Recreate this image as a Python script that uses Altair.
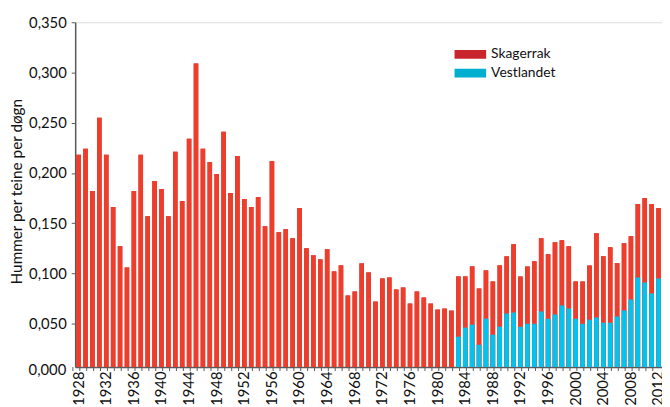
import altair as alt
import pandas as pd

years = list(range(1928, 2013))
skagerrak = [
    0.218, 0.224, 0.182, 0.255, 0.218, 0.166, 0.127, 0.106, 0.182, 0.218,
    0.157, 0.192, 0.184, 0.157, 0.221, 0.172, 0.234, 0.309, 0.224, 0.211,
    0.199, 0.241, 0.180, 0.217, 0.174, 0.166, 0.176, 0.147, 0.212, 0.141,
    0.144, 0.135, 0.165, 0.125, 0.118, 0.114, 0.124, 0.102, 0.108, 0.078,
    0.082, 0.110, 0.101, 0.072, 0.095, 0.096, 0.084, 0.086, 0.070, 0.082,
    0.076, 0.070, 0.064, 0.065, 0.063, 0.097, 0.097, 0.107, 0.085, 0.103,
    0.092, 0.108, 0.117, 0.129, 0.097, 0.107, 0.112, 0.135, 0.119, 0.131,
    0.133, 0.127, 0.092, 0.092, 0.108, 0.140, 0.117, 0.126, 0.110, 0.130,
    0.137, 0.169, 0.175, 0.169, 0.165,
]
vest_years = list(range(1983, 2013))
vestlandet = [
    0.037, 0.046, 0.049, 0.029, 0.055, 0.039, 0.047, 0.060, 0.061, 0.047,
    0.050, 0.050, 0.062, 0.055, 0.059, 0.068, 0.065, 0.055, 0.050, 0.054,
    0.056, 0.051, 0.051, 0.057, 0.063, 0.074, 0.096, 0.091, 0.080, 0.095,
]
series = ["Skagerrak", "Vestlandet"]
bar_colors = ["#EE3D2A", "#00C3EF"]
legend_colors = ["#C9252D", "#00AECF"]
y_ticks = [0.05, 0.1, 0.15, 0.2, 0.25, 0.3, 0.35]
y_zero = [0.0]

df = pd.concat([
    pd.DataFrame({"year": years, "value": skagerrak, "series": series[0]}),
    pd.DataFrame({"year": vest_years, "value": vestlandet, "series": series[1]}),
], ignore_index=True)
zero_df = pd.DataFrame({"value": y_zero})

FONT = "Lato"
AXIS_COLOR = "#5a5a5a"
TXT = "#111111"
FS = 15

x_enc = alt.X(
    "year:O",
    scale=alt.Scale(domain=years, paddingInner=0.34, paddingOuter=0.17),
    axis=alt.Axis(
        title=None, ticks=False, labelAngle=270, labelAlign="right",
        labelBaseline="middle", labelPadding=4, labelFontSize=FS, labelFont=FONT,
        labelColor=TXT, domainColor=AXIS_COLOR, domainWidth=1.5,
        labelExpr="datum.value % 4 == 0 ? datum.label : ''", labelOverlap=False,
    ),
)
y_scale = alt.Scale(domain=[0.0068, 0.35], nice=False, zero=False)
y_enc = alt.Y(
    "value:Q",
    scale=y_scale,
    axis=alt.Axis(
        values=y_ticks, grid=False, tickSize=4, tickColor=AXIS_COLOR,
        domainColor=AXIS_COLOR, domainWidth=1.5, labelFontSize=FS, labelFont=FONT,
        labelColor=TXT, labelPadding=5,
        labelExpr="replace(format(datum.value, '.3f'), '.', ',')",
        title="Hummer per teine per døgn", titleFont=FONT, titleFontSize=15.5,
        titleFontWeight="normal", titleColor=TXT, titleAngle=270,
        titleX=-59, titleY=171, titleAlign="center", titleBaseline="middle",
    ),
)

base = alt.Chart(df)
fill_enc = alt.Fill("series:N", scale=alt.Scale(domain=series, range=bar_colors), legend=None)

# hidden layer underneath the bars: carries the legend
legend_layer = base.transform_calculate(serie="datum.series").mark_bar(clip=True).encode(
    x=x_enc, y=y_enc, y2=alt.datum(0),
    color=alt.Color(
        "serie:N", scale=alt.Scale(domain=series, range=legend_colors),
        legend=alt.Legend(
            orient="none", legendX=392, legendY=24.5, title=None,
            symbolType="M-2,-0.56L2,-0.56L2,0.56L-2,0.56Z", symbolSize=256,
            symbolStrokeWidth=0, labelFontSize=14, labelFont=FONT,
            labelColor=TXT, labelOffset=13, rowPadding=4, padding=0,
        ),
    ),
)
red = base.transform_filter(alt.datum.series == series[0]).mark_bar(clip=True).encode(
    x=x_enc, y=y_enc, y2=alt.datum(0), fill=fill_enc
)
blue = base.transform_filter(alt.datum.series == series[1]).mark_bar(clip=True).encode(
    x=x_enc, y=y_enc, y2=alt.datum(0), fill=fill_enc
)
ticks = base.transform_filter(alt.datum.series == series[0]).mark_rule(
    color=AXIS_COLOR, strokeWidth=1
).encode(
    x=x_enc, xOffset=alt.value(-3.5), y=alt.value(349), y2=alt.value(353)
)
zero_label = alt.Chart(zero_df).transform_calculate(
    lab="replace(format(datum.value, '.3f'), '.', ',')"
).mark_text(
    align="right", baseline="middle", font=FONT, fontSize=FS, color=TXT, dx=-9, dy=-4
).encode(x=alt.value(0), y=alt.Y("value:Q", scale=y_scale), text="lab:N")

chart = alt.layer(legend_layer, red, blue, ticks, zero_label).properties(
    width=594, height=349, autosize="none",
    padding={"left": 68, "top": 12, "right": 0, "bottom": 38},
).configure_view(stroke=None).configure(background="white")

chart.save("out.html", embed_options={"renderer": "svg", "actions": False})
